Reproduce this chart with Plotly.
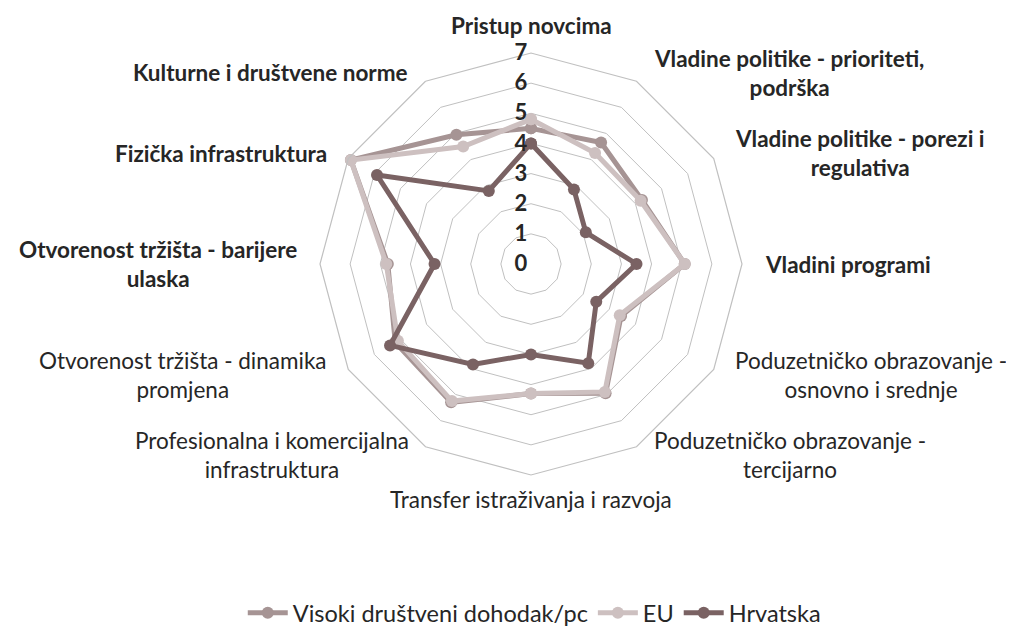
import math
import plotly.graph_objects as go

categories = [
    "Pristup novcima",
    "Vladine politike - prioriteti, podrška",
    "Vladine politike - porezi i regulativa",
    "Vladini programi",
    "Poduzetničko obrazovanje - osnovno i srednje",
    "Poduzetničko obrazovanje - tercijarno",
    "Transfer istraživanja i razvoja",
    "Profesionalna i komercijalna infrastruktura",
    "Otvorenost tržišta - dinamika promjena",
    "Otvorenost tržišta - barijere ulaska",
    "Fizička infrastruktura",
    "Kulturne i društvene norme",
]
category_labels = [
    "<b>Pristup novcima</b>",
    "<b>Vladine politike - prioriteti,<br>podrška</b>",
    "<b>Vladine politike - porezi i<br>regulativa</b>",
    "<b>Vladini programi</b>",
    "Poduzetničko obrazovanje -<br>osnovno i srednje",
    "Poduzetničko obrazovanje -<br>tercijarno",
    "Transfer istraživanja i razvoja",
    "Profesionalna i komercijalna<br>infrastruktura",
    "Otvorenost tržišta - dinamika<br>promjena",
    "<b>Otvorenost tržišta - barijere<br>ulaska</b>",
    "<b>Fizička infrastruktura</b>",
    "<b>Kulturne i društvene norme</b>",
]

visoki = [4.5, 4.65, 4.25, 5.1, 3.45, 4.95, 4.3, 5.3, 5.2, 4.75, 6.9, 4.95]
eu = [4.8, 4.25, 4.2, 5.1, 3.4, 4.9, 4.3, 5.25, 5.1, 4.8, 6.9, 4.5]
hrvatska = [4.0, 2.85, 2.1, 3.5, 2.5, 3.8, 3.0, 3.85, 5.4, 3.2, 5.9, 2.8]

radial_ticks = [0, 1, 2, 3, 4, 5, 6, 7]

series = [
    ("Visoki društveni dohodak/pc", visoki, "#a69494"),
    ("EU", eu, "#cdc0c0"),
    ("Hrvatska", hrvatska, "#7a6263"),
]

FONT = "Lato, 'Open Sans', sans-serif"
W, H = 1014, 627

# polar placement (figure pixels)
CX, CY, R = 523, 256, 211
dom_x = [(CX - R) / W, (CX + R) / W]
dom_y = [1 - (CY + R) / H, 1 - (CY - R) / H]

fig = go.Figure()
for name, vals, color in series:
    fig.add_trace(go.Scatterpolar(
        r=vals + vals[:1],
        theta=categories + categories[:1],
        mode="lines+markers",
        name=name,
        line=dict(color=color, width=5),
        marker=dict(color=color, size=12),
    ))

# category labels placed around the outer ring, Excel-style
n = len(categories)
annotations = []
for i, label in enumerate(category_labels):
    th = 2 * math.pi * i / n
    s, c = math.sin(th), math.cos(th)
    vx = CX + R * s
    vy = CY - R * c
    ann = dict(
        x=vx / W, y=1 - vy / H, xref="paper", yref="paper",
        text=label, showarrow=False, align="center",
        font=dict(size=22.5, color="#262626", family=FONT),
    )
    if abs(s) < 0.1:
        ann["xanchor"] = "center"
        if c > 0:
            ann["yanchor"] = "bottom"
            ann["yshift"] = 12
        else:
            ann["yanchor"] = "top"
            ann["yshift"] = -9
    else:
        gap = 9 + 12 * abs(s)
        ann["xanchor"] = "left" if s > 0 else "right"
        ann["xshift"] = gap if s > 0 else -gap
        ann["yanchor"] = "middle"
        ann["yshift"] = 10 * c
    annotations.append(ann)

grid_color = "#c0c0c0"
fig.update_layout(
    width=W,
    height=H,
    paper_bgcolor="white",
    plot_bgcolor="white",
    margin=dict(l=0, r=0, t=0, b=0),
    font=dict(family=FONT, color="#262626"),
    annotations=annotations,
    polar=dict(
        domain=dict(x=dom_x, y=dom_y),
        gridshape="linear",
        bgcolor="white",
        radialaxis=dict(
            range=[0, 7],
            tickvals=radial_ticks,
            ticktext=[f"<b>{t}</b>" for t in radial_ticks],
            angle=90,
            tickangle=90,
            side="counterclockwise",
            showline=False,
            ticks="",
            gridcolor=grid_color,
            gridwidth=1.2,
            tickfont=dict(size=22, color="#262626", family=FONT),
        ),
        angularaxis=dict(
            direction="clockwise",
            rotation=90,
            tickvals=categories,
            showticklabels=False,
            showgrid=False,
            showline=True,
            linecolor=grid_color,
            linewidth=1.2,
            ticks="",
        ),
    ),
    legend=dict(
        orientation="h",
        x=0.519,
        xanchor="center",
        y=0.0,
        yanchor="bottom",
        font=dict(size=23.5, color="#262626", family=FONT),
        itemwidth=40,
    ),
)

fig.write_html("out.html")
